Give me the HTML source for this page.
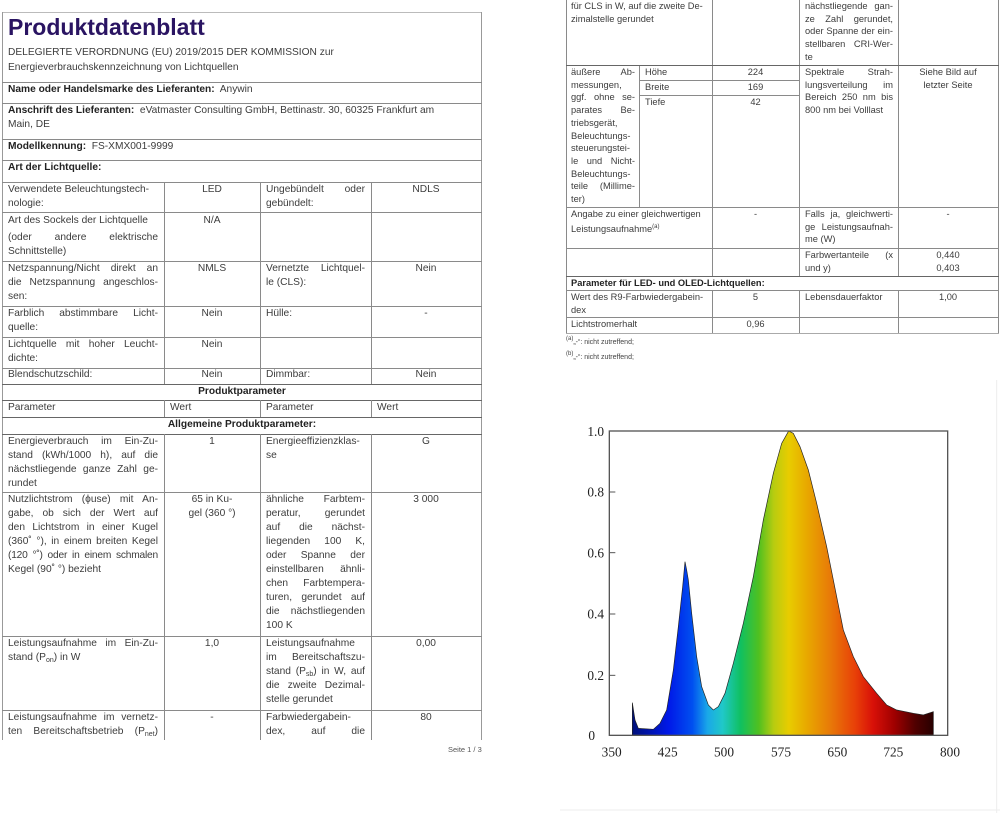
<!DOCTYPE html>
<html><head><meta charset="utf-8"><style>
*{margin:0;padding:0}
body{width:1000px;height:813px;background:#fff;position:relative;overflow:hidden;font-family:"Liberation Sans",sans-serif;color:#3c3c3c}
.h{position:absolute;height:1px;background:#8a8a8a}
.v{position:absolute;width:1px;background:#8a8a8a}
.L{position:absolute;font-size:10.2px;line-height:14px;white-space:nowrap}
.R{position:absolute;font-size:9.3px;line-height:12.7px;white-space:nowrap}
.j{text-align:justify;text-align-last:justify;white-space:nowrap}
.c{text-align:center}
b{color:#222}
sub{font-size:7px;vertical-align:-2px}
sup{font-size:6px;vertical-align:4px}
</style></head><body>

<!-- LEFT PAGE -->
<div class="h" style="left:2px;top:12px;width:480px;background:#bbb"></div>
<div class="v" style="left:2px;top:12px;height:728px;background:#999"></div>
<div class="v" style="left:481px;top:12px;height:728px;background:#999"></div>
<div style="position:absolute;left:8px;top:12px;font-size:23px;font-weight:bold;color:#2a1462;line-height:30px">Produktdatenblatt</div>
<div class="L" style="left:8px;top:46px">DELEGIERTE VERORDNUNG (EU) 2019/2015 DER KOMMISSION zur</div>
<div class="L" style="left:8px;top:61px">Energieverbrauchskennzeichnung von Lichtquellen</div>
<div class="h" style="left:2px;top:82px;width:480px"></div>
<div class="L" style="left:8px;top:83px"><b>Name oder Handelsmarke des Lieferanten:</b>&nbsp; Anywin</div>
<div class="h" style="left:2px;top:103px;width:480px"></div>
<div class="L" style="left:8px;top:104px"><b>Anschrift des Lieferanten:</b>&nbsp; eVatmaster Consulting GmbH, Bettinastr. 30, 60325 Frankfurt am</div>
<div class="L" style="left:8px;top:118px">Main, DE</div>
<div class="h" style="left:2px;top:139px;width:480px"></div>
<div class="L" style="left:8px;top:140px"><b>Modellkennung:</b>&nbsp; FS-XMX001-9999</div>
<div class="h" style="left:2px;top:160px;width:480px"></div>
<div class="L" style="left:8px;top:161px"><b>Art der Lichtquelle:</b></div>
<div class="h" style="left:2px;top:182px;width:480px"></div>
<div class="v" style="left:164px;top:182px;height:202px"></div>
<div class="v" style="left:260px;top:182px;height:202px"></div>
<div class="v" style="left:371px;top:182px;height:202px"></div>

<div class="L" style="left:8px;top:183px">Verwendete Beleuchtungstech-<br>nologie:</div>
<div class="L c" style="left:164px;top:183px;width:96px">LED</div>
<div class="L j" style="left:266px;top:183px;width:99px">Ungebündelt oder</div>
<div class="L" style="left:266px;top:197px">gebündelt:</div>
<div class="L c" style="left:371px;top:183px;width:110px">NDLS</div>
<div class="h" style="left:2px;top:212px;width:480px"></div>

<div class="L" style="left:8px;top:214px">Art des Sockels der Lichtquelle</div>
<div class="L j" style="left:8px;top:231px;width:150px">(oder andere elektrische</div>
<div class="L" style="left:8px;top:245px">Schnittstelle)</div>
<div class="L c" style="left:164px;top:214px;width:96px">N/A</div>
<div class="h" style="left:2px;top:261px;width:480px"></div>

<div class="L j" style="left:8px;top:262px;width:150px">Netzspannung/Nicht direkt an</div>
<div class="L j" style="left:8px;top:276px;width:150px">die Netzspannung angeschlos-</div>
<div class="L" style="left:8px;top:290px">sen:</div>
<div class="L c" style="left:164px;top:262px;width:96px">NMLS</div>
<div class="L j" style="left:266px;top:262px;width:99px">Vernetzte Lichtquel-</div>
<div class="L" style="left:266px;top:276px">le (CLS):</div>
<div class="L c" style="left:371px;top:262px;width:110px">Nein</div>
<div class="h" style="left:2px;top:306px;width:480px"></div>

<div class="L j" style="left:8px;top:307px;width:150px">Farblich abstimmbare Licht-</div>
<div class="L" style="left:8px;top:321px">quelle:</div>
<div class="L c" style="left:164px;top:307px;width:96px">Nein</div>
<div class="L" style="left:266px;top:307px">Hülle:</div>
<div class="L c" style="left:371px;top:307px;width:110px">-</div>
<div class="h" style="left:2px;top:337px;width:480px"></div>

<div class="L j" style="left:8px;top:338px;width:150px">Lichtquelle mit hoher Leucht-</div>
<div class="L" style="left:8px;top:352px">dichte:</div>
<div class="L c" style="left:164px;top:338px;width:96px">Nein</div>
<div class="h" style="left:2px;top:368px;width:480px"></div>

<div class="L" style="left:8px;top:368px">Blendschutzschild:</div>
<div class="L c" style="left:164px;top:368px;width:96px">Nein</div>
<div class="L" style="left:266px;top:368px">Dimmbar:</div>
<div class="L c" style="left:371px;top:368px;width:110px">Nein</div>
<div class="h" style="left:2px;top:384px;width:480px;background:#666"></div>
<div class="L c" style="left:2px;top:385px;width:480px"><b>Produktparameter</b></div>
<div class="h" style="left:2px;top:400px;width:480px;background:#666"></div>
<div class="v" style="left:164px;top:400px;height:17px"></div>
<div class="v" style="left:260px;top:400px;height:17px"></div>
<div class="v" style="left:371px;top:400px;height:17px"></div>
<div class="L" style="left:8px;top:401px">Parameter</div>
<div class="L" style="left:170px;top:401px">Wert</div>
<div class="L" style="left:266px;top:401px">Parameter</div>
<div class="L" style="left:377px;top:401px">Wert</div>
<div class="h" style="left:2px;top:417px;width:480px;background:#666"></div>
<div class="L c" style="left:2px;top:418px;width:480px"><b>Allgemeine Produktparameter:</b></div>
<div class="h" style="left:2px;top:434px;width:480px;background:#666"></div>
<div class="v" style="left:164px;top:434px;height:306px"></div>
<div class="v" style="left:260px;top:434px;height:306px"></div>
<div class="v" style="left:371px;top:434px;height:306px"></div>

<div class="L j" style="left:8px;top:435px;width:150px">Energieverbrauch im Ein-Zu-</div>
<div class="L j" style="left:8px;top:449px;width:150px">stand (kWh/1000 h), auf die</div>
<div class="L j" style="left:8px;top:463px;width:150px">nächstliegende ganze Zahl ge-</div>
<div class="L" style="left:8px;top:477px">rundet</div>
<div class="L c" style="left:164px;top:435px;width:96px">1</div>
<div class="L" style="left:266px;top:435px">Energieeffizienzklas-<br>se</div>
<div class="L c" style="left:371px;top:435px;width:110px">G</div>
<div class="h" style="left:2px;top:492px;width:480px"></div>

<div class="L j" style="left:8px;top:493px;width:150px">Nutzlichtstrom (ϕuse) mit An-</div>
<div class="L j" style="left:8px;top:507px;width:150px">gabe, ob sich der Wert auf</div>
<div class="L j" style="left:8px;top:521px;width:150px">den Lichtstrom in einer Kugel</div>
<div class="L j" style="left:8px;top:535px;width:150px">(360˚ °), in einem breiten Kegel</div>
<div class="L j" style="left:8px;top:549px;width:150px;letter-spacing:-0.2px">(120 °˚) oder in einem schmalen</div>
<div class="L" style="left:8px;top:563px">Kegel (90˚ °) bezieht</div>
<div class="L c" style="left:164px;top:493px;width:96px">65 in Ku-<br>gel (360 °)</div>
<div class="L j" style="left:266px;top:493px;width:99px">ähnliche Farbtem-</div>
<div class="L j" style="left:266px;top:507px;width:99px">peratur, gerundet</div>
<div class="L j" style="left:266px;top:521px;width:99px">auf die nächst-</div>
<div class="L j" style="left:266px;top:535px;width:99px">liegenden 100 K,</div>
<div class="L j" style="left:266px;top:549px;width:99px">oder Spanne der</div>
<div class="L j" style="left:266px;top:563px;width:99px">einstellbaren ähnli-</div>
<div class="L j" style="left:266px;top:577px;width:99px">chen Farbtempera-</div>
<div class="L j" style="left:266px;top:591px;width:99px">turen, gerundet auf</div>
<div class="L j" style="left:266px;top:605px;width:99px">die nächstliegenden</div>
<div class="L" style="left:266px;top:619px">100 K</div>
<div class="L c" style="left:371px;top:493px;width:110px">3 000</div>
<div class="h" style="left:2px;top:636px;width:480px"></div>

<div class="L j" style="left:8px;top:637px;width:150px">Leistungsaufnahme im Ein-Zu-</div>
<div class="L" style="left:8px;top:651px">stand (P<sub>on</sub>) in W</div>
<div class="L c" style="left:164px;top:637px;width:96px">1,0</div>
<div class="L" style="left:266px;top:637px">Leistungsaufnahme</div>
<div class="L j" style="left:266px;top:651px;width:99px">im Bereitschaftszu-</div>
<div class="L j" style="left:266px;top:665px;width:99px">stand (P<sub>sb</sub>) in W, auf</div>
<div class="L j" style="left:266px;top:679px;width:99px">die zweite Dezimal-</div>
<div class="L" style="left:266px;top:693px">stelle gerundet</div>
<div class="L c" style="left:371px;top:637px;width:110px">0,00</div>
<div class="h" style="left:2px;top:710px;width:480px"></div>

<div class="L j" style="left:8px;top:711px;width:150px">Leistungsaufnahme im vernetz-</div>
<div class="L j" style="left:8px;top:725px;width:150px">ten Bereitschaftsbetrieb (P<sub>net</sub>)</div>
<div class="L c" style="left:164px;top:711px;width:96px">-</div>
<div class="L" style="left:266px;top:711px">Farbwiedergabein-</div>
<div class="L j" style="left:266px;top:725px;width:99px">dex, auf die</div>
<div class="L c" style="left:371px;top:711px;width:110px">80</div>
<div style="position:absolute;left:0;top:740px;width:490px;height:20px;background:#fff"></div>
<div style="position:absolute;left:448px;top:745px;font-size:7.5px;color:#555">Seite 1 / 3</div>

<!-- RIGHT PAGE TABLE -->
<div class="v" style="left:566px;top:0;height:333px"></div>
<div class="v" style="left:712px;top:0;height:276px"></div>
<div class="v" style="left:799px;top:0;height:276px"></div>
<div class="v" style="left:898px;top:0;height:276px"></div>
<div class="v" style="left:998px;top:0;height:333px"></div>
<div class="v" style="left:712px;top:290px;height:43px"></div>
<div class="v" style="left:799px;top:290px;height:43px"></div>
<div class="v" style="left:898px;top:290px;height:43px"></div>
<div class="v" style="left:639px;top:65px;height:142px"></div>

<div class="R" style="left:571px;top:0">für CLS in W, auf die zweite De-<br>zimalstelle gerundet</div>
<div class="R j" style="left:805px;top:0;width:88px">nächstliegende gan-</div>
<div class="R j" style="left:805px;top:12.7px;width:88px">ze Zahl gerundet,</div>
<div class="R j" style="left:805px;top:25.4px;width:88px">oder Spanne der ein-</div>
<div class="R j" style="left:805px;top:38.1px;width:88px">stellbaren CRI-Wer-</div>
<div class="R" style="left:805px;top:50.8px">te</div>
<div class="h" style="left:566px;top:65px;width:433px;background:#666"></div>

<div class="R j" style="left:571px;top:66px;width:64px">äußere Ab-</div>
<div class="R" style="left:571px;top:78.7px">messungen,</div>
<div class="R j" style="left:571px;top:91.4px;width:64px">ggf. ohne se-</div>
<div class="R j" style="left:571px;top:104.1px;width:64px">parates Be-</div>
<div class="R" style="left:571px;top:116.8px">triebsgerät,</div>
<div class="R" style="left:571px;top:129.5px">Beleuchtungs-</div>
<div class="R" style="left:571px;top:142.2px">steuerungstei-</div>
<div class="R j" style="left:571px;top:154.9px;width:64px">le und Nicht-</div>
<div class="R" style="left:571px;top:167.6px">Beleuchtungs-</div>
<div class="R j" style="left:571px;top:180.3px;width:64px">teile (Millime-</div>
<div class="R" style="left:571px;top:193px">ter)</div>
<div class="R" style="left:645px;top:66px">Höhe</div>
<div class="h" style="left:639px;top:80px;width:73px"></div>
<div class="R" style="left:645px;top:81px">Breite</div>
<div class="h" style="left:639px;top:95px;width:73px"></div>
<div class="R" style="left:645px;top:96px">Tiefe</div>
<div class="R c" style="left:712px;top:66px;width:87px">224</div>
<div class="h" style="left:712px;top:80px;width:87px"></div>
<div class="R c" style="left:712px;top:81px;width:87px">169</div>
<div class="h" style="left:712px;top:95px;width:87px"></div>
<div class="R c" style="left:712px;top:96px;width:87px">42</div>
<div class="R j" style="left:805px;top:66px;width:88px">Spektrale Strah-</div>
<div class="R j" style="left:805px;top:78.7px;width:88px">lungsverteilung im</div>
<div class="R j" style="left:805px;top:91.4px;width:88px">Bereich 250 nm bis</div>
<div class="R" style="left:805px;top:104.1px">800 nm bei Volllast</div>
<div class="R c" style="left:898px;top:66px;width:100px">Siehe Bild auf<br>letzter Seite</div>
<div class="h" style="left:566px;top:207px;width:433px"></div>

<div class="R" style="left:571px;top:208px">Angabe zu einer gleichwertigen<br>Leistungsaufnahme<sup>(a)</sup></div>
<div class="R c" style="left:712px;top:208px;width:87px">-</div>
<div class="R j" style="left:805px;top:208px;width:88px">Falls ja, gleichwerti-</div>
<div class="R j" style="left:805px;top:220.7px;width:88px">ge Leistungsaufnah-</div>
<div class="R" style="left:805px;top:233.4px">me (W)</div>
<div class="R c" style="left:898px;top:208px;width:100px">-</div>
<div class="h" style="left:566px;top:248px;width:433px"></div>

<div class="R j" style="left:805px;top:249px;width:88px">Farbwertanteile (x</div>
<div class="R" style="left:805px;top:261.7px">und y)</div>
<div class="R c" style="left:898px;top:249px;width:100px">0,440<br>0,403</div>
<div class="h" style="left:566px;top:276px;width:433px;background:#666"></div>
<div class="R" style="left:571px;top:277px"><b>Parameter für LED- und OLED-Lichtquellen:</b></div>
<div class="h" style="left:566px;top:290px;width:433px"></div>

<div class="R" style="left:571px;top:291px">Wert des R9-Farbwiedergabein-<br>dex</div>
<div class="R c" style="left:712px;top:291px;width:87px">5</div>
<div class="R" style="left:805px;top:291px">Lebensdauerfaktor</div>
<div class="R c" style="left:898px;top:291px;width:100px">1,00</div>
<div class="h" style="left:566px;top:317px;width:433px"></div>
<div class="R" style="left:571px;top:318px">Lichtstromerhalt</div>
<div class="R c" style="left:712px;top:318px;width:87px">0,96</div>
<div class="h" style="left:566px;top:333px;width:433px;background:#aaa"></div>
<div style="position:absolute;left:566px;top:336px;font-size:7px;color:#444"><sup>(a)</sup>„-“: nicht zutreffend;</div>
<div style="position:absolute;left:566px;top:351px;font-size:7px;color:#444"><sup>(b)</sup>„-“: nicht zutreffend;</div>

<!-- CHART -->
<svg style="position:absolute;left:560px;top:380px" width="440" height="433" viewBox="0 0 1320 1299">
<defs><linearGradient id="g" gradientUnits="userSpaceOnUse" x1="217" y1="0" x2="1120" y2="0">
<stop offset="0" stop-color="#00107a"/>
<stop offset="0.12" stop-color="#0018e8"/>
<stop offset="0.2" stop-color="#0050f0"/>
<stop offset="0.25" stop-color="#1aa8e8"/>
<stop offset="0.3" stop-color="#20c8c8"/>
<stop offset="0.36" stop-color="#10c060"/>
<stop offset="0.42" stop-color="#50c020"/>
<stop offset="0.47" stop-color="#b8cc10"/>
<stop offset="0.52" stop-color="#e8cc00"/>
<stop offset="0.58" stop-color="#e8a800"/>
<stop offset="0.66" stop-color="#e87808"/>
<stop offset="0.74" stop-color="#e84008"/>
<stop offset="0.8" stop-color="#d81008"/>
<stop offset="0.87" stop-color="#a00000"/>
<stop offset="0.94" stop-color="#500000"/>
<stop offset="1" stop-color="#280000"/>
</linearGradient></defs>
<path fill="url(#g)" stroke="#222" stroke-width="2" d="M217,1066 L217,968 L225,1020 L235,1045 L280,1048 L300,1030 L320,990 L340,870 L355,740 L368,620 L375,545 L380,570 L385,600 L395,700 L410,830 L425,920 L445,975 L460,990 L475,980 L495,940 L520,850 L550,730 L580,590 L610,420 L640,280 L665,190 L686,153 L700,160 L720,200 L745,270 L770,370 L800,500 L830,650 L850,750 L880,830 L910,890 L950,940 L980,975 L1010,990 L1060,1000 L1090,1005 L1120,995 L1120,1066 Z"/>
<rect x="148" y="153" width="1015" height="913" fill="none" stroke="#555" stroke-width="4"/>
<g stroke="#555" stroke-width="3">
<line x1="148" y1="336" x2="166" y2="336"/><line x1="148" y1="518" x2="166" y2="518"/>
<line x1="148" y1="702" x2="166" y2="702"/><line x1="148" y1="886" x2="166" y2="886"/>
</g>
<g font-family="Liberation Serif,serif" font-size="40" fill="#222" text-anchor="end">
<text x="132" y="168">1.0</text><text x="132" y="350">0.8</text><text x="132" y="532">0.6</text>
<text x="132" y="716">0.4</text><text x="132" y="900">0.2</text><text x="105" y="1080">0</text>
</g>
<g font-family="Liberation Serif,serif" font-size="40" fill="#222" text-anchor="middle">
<text x="155" y="1130">350</text><text x="323" y="1130">425</text><text x="492" y="1130">500</text>
<text x="663" y="1130">575</text><text x="832" y="1130">650</text><text x="1000" y="1130">725</text><text x="1170" y="1130">800</text>
</g>
<line x1="1310" y1="0" x2="1310" y2="1299" stroke="#eee" stroke-width="3"/>
<line x1="0" y1="1290" x2="1320" y2="1290" stroke="#eee" stroke-width="3"/>
</svg>
</body></html>
